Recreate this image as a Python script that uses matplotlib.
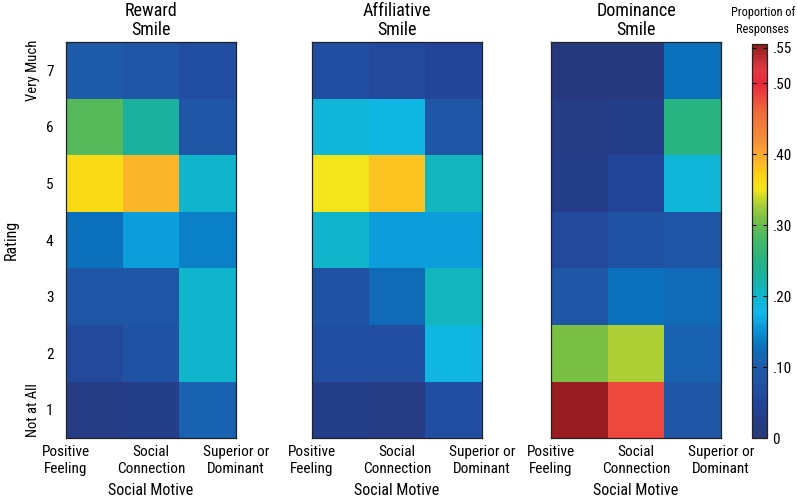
import matplotlib
matplotlib.use("Agg")
import matplotlib.pyplot as plt
import numpy as np
from matplotlib.colors import LinearSegmentedColormap

# ---- data (rows: rating 1..7, columns: motives) ----
ratings = [1, 2, 3, 4, 5, 6, 7]
motives = ["Positive\nFeeling", "Social\nConnection", "Superior or\nDominant"]
panel_titles = ["Reward\nSmile", "Affiliative\nSmile", "Dominance\nSmile"]

reward = [
    [0.02, 0.03, 0.11],
    [0.06, 0.08, 0.20],
    [0.09, 0.09, 0.20],
    [0.13, 0.16, 0.14],
    [0.36, 0.39, 0.20],
    [0.29, 0.23, 0.09],
    [0.10, 0.09, 0.07],
]
affiliative = [
    [0.03, 0.02, 0.07],
    [0.07, 0.07, 0.18],
    [0.08, 0.12, 0.21],
    [0.20, 0.16, 0.16],
    [0.35, 0.38, 0.21],
    [0.19, 0.18, 0.09],
    [0.07, 0.06, 0.05],
]
dominance = [
    [0.55, 0.48, 0.09],
    [0.31, 0.33, 0.11],
    [0.09, 0.13, 0.12],
    [0.06, 0.08, 0.09],
    [0.03, 0.05, 0.19],
    [0.02, 0.03, 0.25],
    [0.01, 0.01, 0.13],
]
cbar_ticks = [0, 0.10, 0.20, 0.30, 0.40, 0.50, 0.55]
cbar_ticklabels = ["0", ".10", ".20", ".30", ".40", ".50", ".55"]

VMIN, VMAX = 0.0, 0.555
anchors = [
    (0.00, "#293777"), (0.05, "#23459a"), (0.10, "#1f5caa"), (0.13, "#0a72bc"),
    (0.155, "#0a98d8"), (0.175, "#12b8ea"), (0.20, "#10b6cc"), (0.24, "#1eb28e"),
    (0.28, "#45b866"), (0.31, "#7cc143"), (0.33, "#acce38"), (0.35, "#f2e61a"),
    (0.37, "#fdd412"), (0.39, "#fbb52a"), (0.42, "#f4903a"), (0.46, "#ee6a3a"),
    (0.48, "#ee4a3e"), (0.50, "#e6263a"), (0.52, "#e23a40"), (0.555, "#8e1a1e"),
]
cmap = LinearSegmentedColormap.from_list(
    "prop", [((v - VMIN) / (VMAX - VMIN), c) for v, c in anchors])

plt.rcParams['font.family'] = ['Roboto Condensed', 'Archivo Narrow', 'DejaVu Sans']

W, H = 797, 501
fig = plt.figure(figsize=(W / 100, H / 100), dpi=100)

def rect(x0, y0, x1, y1):
    return [x0 / W, 1 - y1 / H, (x1 - x0) / W, (y1 - y0) / H]

lefts = [66, 312, 551]
axw = 170
top, bot = 42, 438
datasets = [reward, affiliative, dominance]
FS = 11

im = None
for i, (x0, data, title) in enumerate(zip(lefts, datasets, panel_titles)):
    ax = fig.add_axes(rect(x0, top, x0 + axw, bot))
    arr = np.array(data)
    im = ax.imshow(arr, cmap=cmap, vmin=VMIN, vmax=VMAX, origin="lower",
                   aspect="auto", extent=(0.5, 3.5, 0.5, 7.5),
                   interpolation="nearest")
    ax.set_title(title, fontsize=13, pad=5, linespacing=1.1)
    ax.set_xticks([0.5, 2.0, 3.5])
    ax.set_xticklabels(motives, fontsize=FS, linespacing=1.3)
    ax.tick_params(axis="x", length=0, pad=5)
    ax.set_xlabel("Social Motive", fontsize=FS + 0.5, labelpad=5)
    for s in ax.spines.values():
        s.set_linewidth(0.9)
        s.set_color("#222222")
    if i == 0:
        ax.set_yticks(ratings)
        ax.set_yticklabels([str(r) for r in ratings], fontsize=FS)
        ax.tick_params(axis="y", length=0, pad=9)
        ax.text(-0.195, 7, "Very Much", transform=ax.get_yaxis_transform(),
                rotation=90, ha="center", va="center", fontsize=FS - 0.5)
        ax.text(-0.195, 1, "Not at All", transform=ax.get_yaxis_transform(),
                rotation=90, ha="center", va="center", fontsize=FS - 0.5)
    else:
        ax.set_yticks([])

fig.text(11 / W, 1 - 240 / H, "Rating", rotation=90, ha="center", va="center",
         fontsize=FS + 0.5)

cax = fig.add_axes(rect(752, 44, 767, 438))
cb = fig.colorbar(im, cax=cax)
cb.set_ticks(cbar_ticks)
cb.set_ticklabels(cbar_ticklabels)
cax.tick_params(direction="in", left=True, right=True, length=3, width=0.8,
                labelsize=FS, pad=4)
cb.outline.set_linewidth(0.9)
cb.outline.set_edgecolor("#222222")
fig.text(795 / W, 1 - 21 / H, "Proportion of\nResponses", ha="right",
         va="center", multialignment="center", fontsize=8.8, linespacing=1.4)

fig.savefig("out.png", dpi=100)
